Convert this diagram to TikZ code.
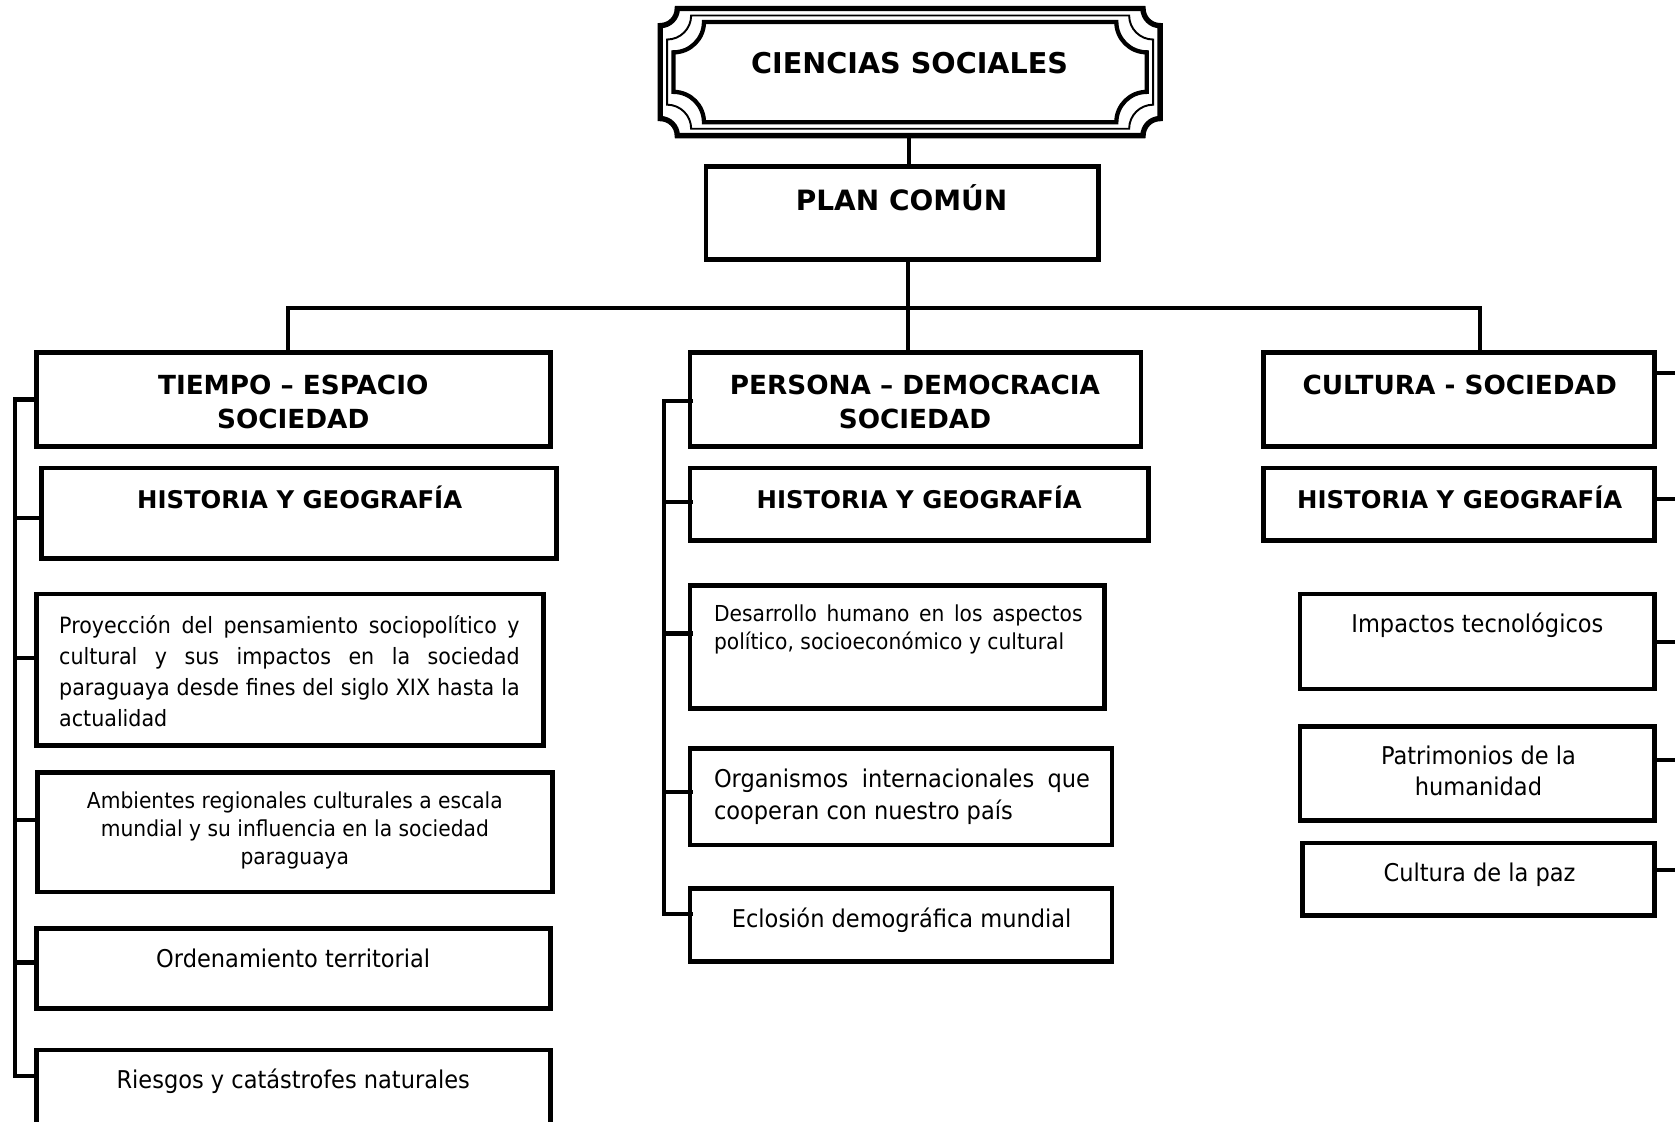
\documentclass[tikz,border=0pt]{standalone}
\usepackage{fontspec}
\setmainfont{DejaVu Sans}
\newfontfamily\bodyf{DejaVu Sans}[FakeStretch=0.92]
\usetikzlibrary{fit,calc}
\newcommand\firstln{\rule{0pt}{1em}}
\newcommand\drawplaque[6]{%
  \pgfmathsetmacro\pk{0.552*#6}%
  \draw[#1] ({#2+#6},#3) -- ({#4-#6},#3)
    .. controls ({#4-#6},{#3+\pk}) and ({#4-\pk},{#3+#6}) .. (#4,{#3+#6})
    -- (#4,{#5-#6})
    .. controls ({#4-\pk},{#5-#6}) and ({#4-#6},{#5-\pk}) .. ({#4-#6},#5)
    -- ({#2+#6},#5)
    .. controls ({#2+#6},{#5-\pk}) and ({#2+\pk},{#5-#6}) .. (#2,{#5-#6})
    -- (#2,{#3+#6})
    .. controls ({#2+\pk},{#3+#6}) and ({#2+#6},{#3+\pk}) .. cycle;}
\begin{document}
\begin{tikzpicture}[x=0.5pt,y=-0.5pt,
  box/.style={draw, line width=2.2pt, inner sep=0pt},
  conn/.style={line width=1.9pt},
  tx/.style={inner sep=0pt, anchor=north},
  hd/.style={tx, font=\bfseries\fontsize{12.3}{16}\selectfont, align=center},
  hg/.style={tx, font=\bfseries\fontsize{11.4}{14}\selectfont},
  bd/.style={tx, font=\bodyf\fontsize{11.45}{14.5}\selectfont, align=center}]
\useasboundingbox (0,0) rectangle (1568,1050);
\fill[white] (0,0) rectangle (1568,1050);
\clip (0,0) rectangle (1568,1050);

% title plaque
\drawplaque{line width=2.5pt}{618}{8}{1086}{127}{16}
\drawplaque{line width=0.9pt}{624.5}{14.5}{1079.5}{120.5}{22.5}
\drawplaque{line width=2.0pt}{630.5}{20.5}{1073.5}{114.5}{28.5}
\node[inner sep=0pt, fit={(618,8)(1086,127)}] (title) {};
\node[tx, font=\bfseries\fontsize{13.4}{16}\selectfont] (tTitle) at (851.5,42) {\firstln CIENCIAS SOCIALES};

% boxes
\node[box, fit={(661,156)(1028,243)}] (plan) {};
\node[box, fit={(34,330)(515,418)}] (tiempo) {};
\node[box, fit={(646,330)(1068,418)}] (persona) {};
\node[box, fit={(1183,330)(1549,418)}] (cultura) {};
\node[box, fit={(39,438)(521,523)}] (histL) {};
\node[box, fit={(646,438)(1075,506)}] (histM) {};
\node[box, fit={(1183,438)(1549,506)}] (histR) {};
\node[box, fit={(34,556)(509,698)}] (proy) {};
\node[box, fit={(35,723)(517,835)}] (amb) {};
\node[box, fit={(34,869)(515,944)}] (ord) {};
\node[box, fit={(34,983)(515,1066)}] (ries) {};
\node[box, fit={(646,548)(1034,663)}] (desa) {};
\node[box, fit={(646,701)(1041,791)}] (orga) {};
\node[box, fit={(646,832)(1041,900)}] (eclo) {};
\node[box, fit={(1217,556)(1549,645)}] (impa) {};
\node[box, fit={(1217,680)(1549,768)}] (patr) {};
\node[box, fit={(1219,789)(1549,857)}] (paz) {};

% texts
\node[tx, font=\bfseries\fontsize{13.1}{16}\selectfont] (tPlan) at (844,170) {\firstln PLAN COMÚN};
\node[hd] (tTiempo) at (274.5,344.4) {\firstln TIEMPO – ESPACIO\\SOCIEDAD};
\node[hd] (tPersona) at (856.5,344.4) {\firstln PERSONA – DEMOCRACIA\\SOCIEDAD};
\node[hd] (tCultura) at (1366.5,344.4) {\firstln CULTURA - SOCIEDAD};
\node[hg] (tHistL) at (280.5,452.5) {\firstln HISTORIA Y GEOGRAFÍA};
\node[hg] (tHistM) at (860.5,452.5) {\firstln HISTORIA Y GEOGRAFÍA};
\node[hg] (tHistR) at (1366.5,452.5) {\firstln HISTORIA Y GEOGRAFÍA};
\node[tx, anchor=north west, align=left, font=\bodyf\fontsize{10.5}{14.5}\selectfont] (tProy) at (55,571.5)
  {\firstln\makebox[215.5pt][s]{Proyección del pensamiento sociopolítico y}\\
   \makebox[215.5pt][s]{cultural y sus impactos en la sociedad}\\
   \makebox[215.5pt][s]{paraguaya desde fines del siglo XIX hasta la}\\
   actualidad};
\node[bd, font=\bodyf\fontsize{10.3}{13}\selectfont] (tAmb) at (276,736)
  {\firstln Ambientes regionales culturales a escala\\mundial y su influencia en la sociedad\\paraguaya};
\node[bd] (tOrd) at (274.5,882) {\firstln Ordenamiento territorial};
\node[bd] (tRies) at (274.5,996) {\firstln Riesgos y catástrofes naturales};
\node[tx, anchor=north west, align=left, font=\bodyf\fontsize{10.3}{13}\selectfont] (tDesa) at (668,561)
  {\firstln\makebox[172.5pt][s]{Desarrollo humano en los aspectos}\\político, socioeconómico y cultural};
\node[tx, anchor=north west, align=left, font=\bodyf\fontsize{11.45}{15}\selectfont] (tOrga) at (668,714)
  {\firstln\makebox[176pt][s]{Organismos internacionales que}\\cooperan con nuestro país};
\node[bd] (tEclo) at (844,845) {\firstln Eclosión demográfica mundial};
\node[bd] (tImpa) at (1383,569) {\firstln Impactos tecnológicos};
\node[bd] (tPatr) at (1384,692) {\firstln Patrimonios de la\\humanidad};
\node[bd] (tPaz) at (1385,802) {\firstln Cultura de la paz};

% trunk connectors
\coordinate (TX) at (851,0);
\coordinate (BC) at (850,288);
\coordinate (BL) at (270,288);
\coordinate (BR) at (1385,288);
\draw[conn] (TX |- title.south) -- (TX |- plan.north);
\draw[conn] (BC |- plan.south) -- (BC |- persona.north);
\draw[conn] (BL |- tiempo.north) -- (BL) -- (BR) -- (BR |- cultura.north);

% left bracket
\coordinate (L1) at (14,374);
\coordinate (L2) at (14,485);
\coordinate (L3) at (14,616);
\coordinate (L4) at (14,768);
\coordinate (L5) at (14,901);
\coordinate (L6) at (14,1007);
\draw[conn] (L1 -| tiempo.west) -- (L1) -- (L6) -- (L6 -| ries.west);
\foreach \c/\b in {L2/histL, L3/proy, L4/amb, L5/ord}
  \draw[conn] (\c) -- (\c -| \b.west);

% middle bracket
\coordinate (M1) at (622,375);
\coordinate (M2) at (622,470);
\coordinate (M3) at (622,593);
\coordinate (M4) at (622,741);
\coordinate (M5) at (622,856);
\draw[conn] ($(M1 -| persona.west)+(5,0)$) -- (M1) -- (M5) -- ($(M5 -| eclo.west)+(5,0)$);
\foreach \c/\b in {M2/histM, M3/desa, M4/orga}
  \draw[conn] (\c) -- ($(\c -| \b.west)+(5,0)$);

% right ticks
\coordinate (R1) at (1572,349);
\coordinate (R2) at (1572,467);
\coordinate (R3) at (1572,601);
\coordinate (R4) at (1572,711);
\coordinate (R5) at (1572,814);
\foreach \c/\b in {R1/cultura, R2/histR, R3/impa, R4/patr, R5/paz}
  \draw[conn] (\c -| \b.east) -- (\c);
\end{tikzpicture}
\end{document}
